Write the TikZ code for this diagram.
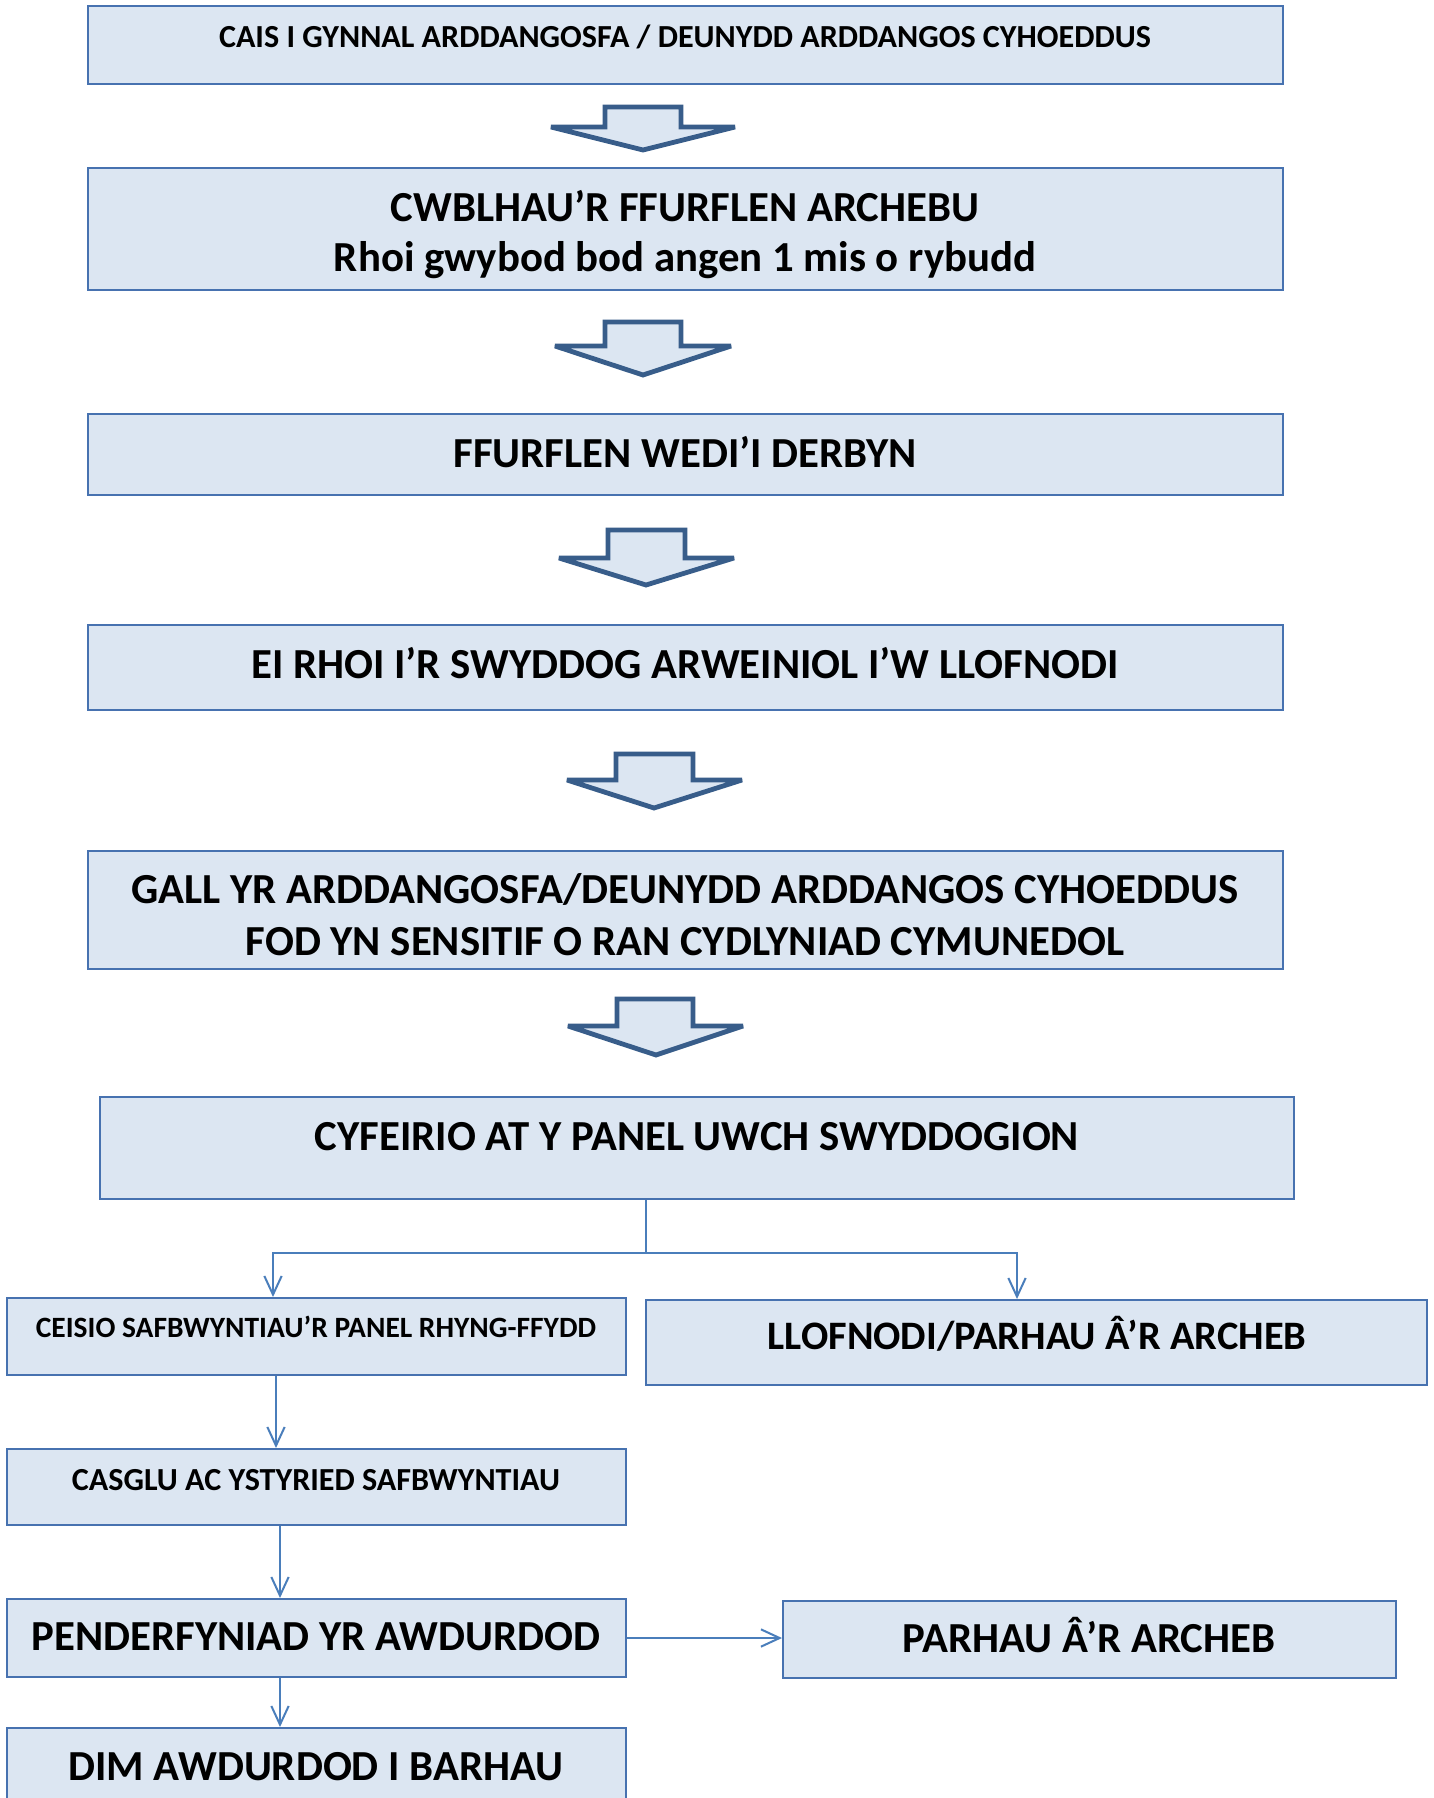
\documentclass[tikz,border=0pt]{standalone}
\usepackage{fontspec}
\setmainfont{Carlito}
\usetikzlibrary{arrows.meta,calc}
\definecolor{boxfill}{HTML}{DCE6F2}
\definecolor{boxline}{HTML}{4772B0}
\definecolor{arrline}{HTML}{385D8A}
\definecolor{connline}{HTML}{4A7EBB}
\tikzset{
  flowbox/.style={draw=boxline, fill=boxfill, line width=1.5pt},
  bigtxt/.style={anchor=base, inner sep=0pt, font=\fontsize{32.1pt}{38pt}\selectfont\bfseries},
  midtxt/.style={anchor=base, inner sep=0pt, font=\fontsize{30.3pt}{36pt}\selectfont\bfseries},
  smalltxt/.style={anchor=base, inner sep=0pt, font=\fontsize{24.1pt}{29pt}\selectfont\bfseries},
  tinytxt/.style={anchor=base, inner sep=0pt, font=\fontsize{22.1pt}{27pt}\selectfont\bfseries},
  blockarrow/.style={draw=arrline, fill=boxfill, line width=3.6pt, line join=miter, miter limit=1.6},
  conn/.style={draw=connline, line width=1.5pt, -{Straight Barb[length=14pt,width=13pt,line width=1.5pt]}},
  connline/.style={draw=connline, line width=1.5pt},
}
\newcommand{\mkbox}[5]{%
  \node[flowbox, inner sep=0pt, minimum width={(#4-#2)*0.75pt}, minimum height={(#5-#3)*0.75pt}] (#1) at ({(#2+#4)/2},{(#3+#5)/2}) {};}
\newcommand{\mkarrow}[9]{% name, left, right, shaftL, shaftR, top, wing, tipx, tipy
  \draw[blockarrow] (#4,#6) -- (#5,#6) -- (#5,#7) -- (#3,#7) -- (#8,#9) -- (#2,#7) -- (#4,#7) -- cycle;
  \coordinate (#1) at (#8,#9);}
\begin{document}
\begin{tikzpicture}[x=0.75pt,y=-0.75pt]
\useasboundingbox (0,0) rectangle (1434,1798);
\clip (0,0) rectangle (1434,1798);
\fill[white] (0,0) rectangle (1434,1798);

% boxes
\mkbox{b1}{88}{6}{1283}{84}
\mkbox{b2}{88}{168}{1283}{290}
\mkbox{b3}{88}{414}{1283}{495}
\mkbox{b4}{88}{625}{1283}{710}
\mkbox{b5}{88}{851}{1283}{969}
\mkbox{b6}{100}{1097}{1294}{1199}
\mkbox{b7}{7}{1298}{626}{1375}
\mkbox{b8}{646}{1300}{1427}{1385}
\mkbox{b9}{7}{1449}{626}{1525}
\mkbox{b10}{7}{1599}{626}{1677}
\mkbox{b11}{783}{1601}{1396}{1678}
\mkbox{b12}{7}{1728}{626}{1840}

% texts
\node[smalltxt] (t1) at (685,47.5) {CAIS I GYNNAL ARDDANGOSFA / DEUNYDD ARDDANGOS CYHOEDDUS};
\node[bigtxt] (t2a) at (685,221) {CWBLHAU’R FFURFLEN ARCHEBU};
\node[bigtxt] (t2b) at (685,271.5) {Rhoi gwybod bod angen 1 mis o rybudd};
\node[bigtxt] (t3) at (685,467) {FFURFLEN WEDI’I DERBYN};
\node[bigtxt] (t4) at (685,678) {EI RHOI I’R SWYDDOG ARWEINIOL I’W LLOFNODI};
\node[bigtxt] (t5a) at (685,903.5) {GALL YR ARDDANGOSFA/DEUNYDD ARDDANGOS CYHOEDDUS};
\node[bigtxt] (t5b) at (685,955) {FOD YN SENSITIF O RAN CYDLYNIAD CYMUNEDOL};
\node[bigtxt] (t6) at (697,1150) {CYFEIRIO AT Y PANEL UWCH SWYDDOGION};
\node[tinytxt] (t7) at (316,1337.5) {CEISIO SAFBWYNTIAU’R PANEL RHYNG-FFYDD};
\node[midtxt] (t8) at (1037,1349) {LLOFNODI/PARHAU Â’R ARCHEB};
\node[smalltxt] (t9) at (316,1490.5) {CASGLU AC YSTYRIED SAFBWYNTIAU};
\node[bigtxt] (t10) at (316,1650.5) {PENDERFYNIAD YR AWDURDOD};
\node[bigtxt] (t11) at (1089,1652) {PARHAU Â’R ARCHEB};
\node[bigtxt] (t12) at (316,1780) {DIM AWDURDOD I BARHAU};

% block arrows
\mkarrow{a1}{551}{735}{605}{681}{107}{127}{643}{150}
\mkarrow{a2}{555}{731}{605}{681}{322}{346}{643}{375}
\mkarrow{a3}{559}{734}{608}{685}{530}{558}{646}{585}
\mkarrow{a4}{567}{742}{616}{693}{754}{780}{654}{808}
\mkarrow{a5}{568}{743}{617}{693}{999}{1026}{656}{1055}

% connectors
\coordinate (split) at (646,1253);
\coordinate (xl) at (273,0);
\coordinate (xr) at (1017,0);
\coordinate (x79) at (276,0);
\coordinate (x910) at (280,0);
\coordinate (y1011) at (0,1638);
\draw[connline] (split |- b6.south) -- (split);
\draw[conn] (split) -| (xl |- b7.north);
\draw[conn] (split) -| (xr |- b8.north);
\draw[conn] (x79 |- b7.south) -- (x79 |- b9.north);
\draw[conn] (x910 |- b9.south) -- (x910 |- b10.north);
\draw[conn] (x910 |- b10.south) -- (x910 |- b12.north);
\draw[conn, line width=2.2pt] (b10.east |- y1011) -- (b11.west |- y1011);
\end{tikzpicture}
\end{document}
